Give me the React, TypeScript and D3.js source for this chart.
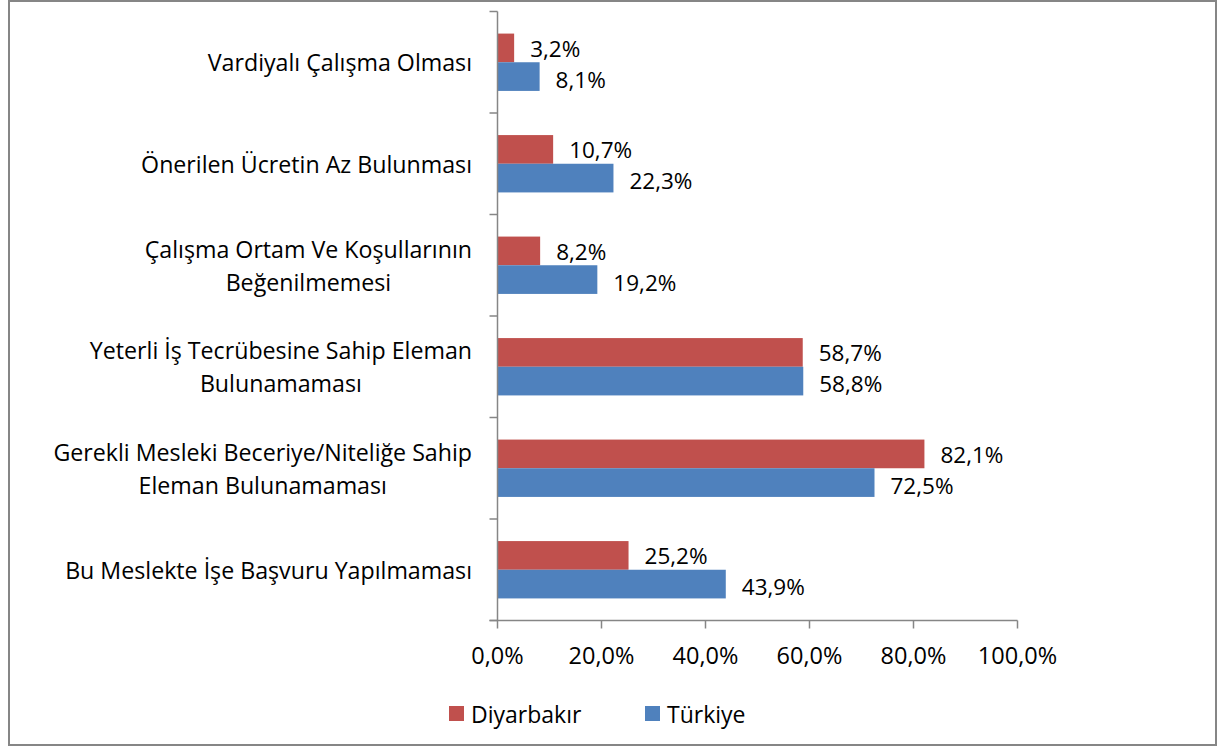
import React, { useEffect, useRef } from "react"
import * as d3 from "d3"

const categories = [
  ["Vardiyalı Çalışma Olması"],
  ["Önerilen Ücretin Az Bulunması"],
  ["Çalışma Ortam Ve Koşullarının", "Beğenilmemesi"],
  ["Yeterli İş Tecrübesine Sahip Eleman", "Bulunamaması"],
  ["Gerekli Mesleki Beceriye/Niteliğe Sahip", "Eleman Bulunamaması"],
  ["Bu Meslekte İşe Başvuru Yapılmaması"],
]
const diyarbakir = [3.2, 10.7, 8.2, 58.7, 82.1, 25.2]
const turkiye = [8.1, 22.3, 19.2, 58.8, 72.5, 43.9]
const xTicks = [0, 20, 40, 60, 80, 100]
const seriesNames = ["Diyarbakır", "Türkiye"]
const colors = ["#C0504D", "#4F81BD"]

const FONT = "'Open Sans', sans-serif"
const fmt = (v: number) => v.toFixed(1).replace(".", ",") + "%"

export default function App() {
  const ref = useRef<SVGSVGElement>(null)

  useEffect(() => {
    const svg = d3.select(ref.current)
    svg.selectAll("*").remove()

    // outer frame
    svg.append("rect")
      .attr("x", 9).attr("y", 1)
      .attr("width", 1207).attr("height", 744)
      .attr("fill", "#fff")
      .attr("stroke", "#868686")
      .attr("stroke-width", 2)

    const left = 497.5
    const top = 11.5
    const width = 520
    const height = 609

    const x = d3.scaleLinear().domain([0, 100]).range([left, left + width])
    const y = d3.scaleBand<number>()
      .domain(d3.range(categories.length))
      .range([top, top + height])
    const inner = d3.scaleBand<number>()
      .domain([0, 1])
      .range([0, y.bandwidth()])
      .paddingOuter(0.77)
      .paddingInner(0)

    const series = [diyarbakir, turkiye]
    // small vertical nudge of value labels (red a bit up, blue a bit down)
    const labelNudge = [0.5, 2.5]

    series.forEach((vals, si) => {
      svg.append("g").selectAll("rect")
        .data(vals)
        .enter()
        .append("rect")
        .attr("x", x(0))
        .attr("y", (d, i) => y(i)! + inner(si)!)
        .attr("width", d => x(d) - x(0))
        .attr("height", inner.bandwidth())
        .attr("fill", colors[si])

      svg.append("g").selectAll("text")
        .data(vals)
        .enter()
        .append("text")
        .attr("x", d => x(d) + 16)
        .attr("y", (d, i) => y(i)! + inner(si)! + inner.bandwidth() / 2 + labelNudge[si])
        .attr("dominant-baseline", "central")
        .attr("font-family", FONT)
        .attr("font-size", 22.5)
        .attr("fill", "#000")
        .text(d => fmt(d))
    })

    // y axis
    const axisColor = "#868686"
    svg.append("line")
      .attr("x1", left).attr("x2", left)
      .attr("y1", top).attr("y2", top + height)
      .attr("stroke", axisColor).attr("stroke-width", 1.5)
    d3.range(categories.length + 1).forEach(i => {
      const yy = top + i * y.step()
      svg.append("line")
        .attr("x1", left - 8).attr("x2", left)
        .attr("y1", yy).attr("y2", yy)
        .attr("stroke", axisColor).attr("stroke-width", 1.5)
    })

    // x axis
    svg.append("line")
      .attr("x1", left - 8).attr("x2", left + width)
      .attr("y1", top + height).attr("y2", top + height)
      .attr("stroke", axisColor).attr("stroke-width", 1.5)
    xTicks.forEach(t => {
      svg.append("line")
        .attr("x1", x(t)).attr("x2", x(t))
        .attr("y1", top + height).attr("y2", top + height + 8)
        .attr("stroke", axisColor).attr("stroke-width", 1.5)
      svg.append("text")
        .attr("x", x(t))
        .attr("y", 655)
        .attr("text-anchor", "middle")
        .attr("dominant-baseline", "central")
        .attr("font-family", FONT)
        .attr("font-size", 23.5)
        .text(fmt(t))
    })

    // category labels
    const labelRight = 472
    const lineH = 33
    categories.forEach((lines, i) => {
      const cy = y(i)! + y.bandwidth() / 2
      const g = svg.append("g")
      const texts = lines.map((ln, k) =>
        g.append("text")
          .attr("y", cy + (k - (lines.length - 1) / 2) * lineH)
          .attr("dominant-baseline", "central")
          .attr("text-anchor", "middle")
          .attr("font-family", FONT)
          .attr("font-size", 23.2)
          .text(ln)
      )
      const maxW = d3.max(texts, t => (t.node() as SVGTextElement).getComputedTextLength()) || 0
      texts.forEach(t => t.attr("x", labelRight - maxW / 2))
    })

    // legend
    const legendX = [449, 645]
    seriesNames.forEach((name, si) => {
      svg.append("rect")
        .attr("x", legendX[si]).attr("y", 706)
        .attr("width", 15).attr("height", 15)
        .attr("fill", colors[si])
      svg.append("text")
        .attr("x", legendX[si] + 22)
        .attr("y", 714)
        .attr("dominant-baseline", "central")
        .attr("font-family", FONT)
        .attr("font-size", 23)
        .text(name)
    })
  }, [])

  return (
    <svg
      ref={ref}
      width={1219}
      height={754}
      style={{ position: "absolute", left: 0, top: 0, background: "#fff" }}
    />
  )
}
